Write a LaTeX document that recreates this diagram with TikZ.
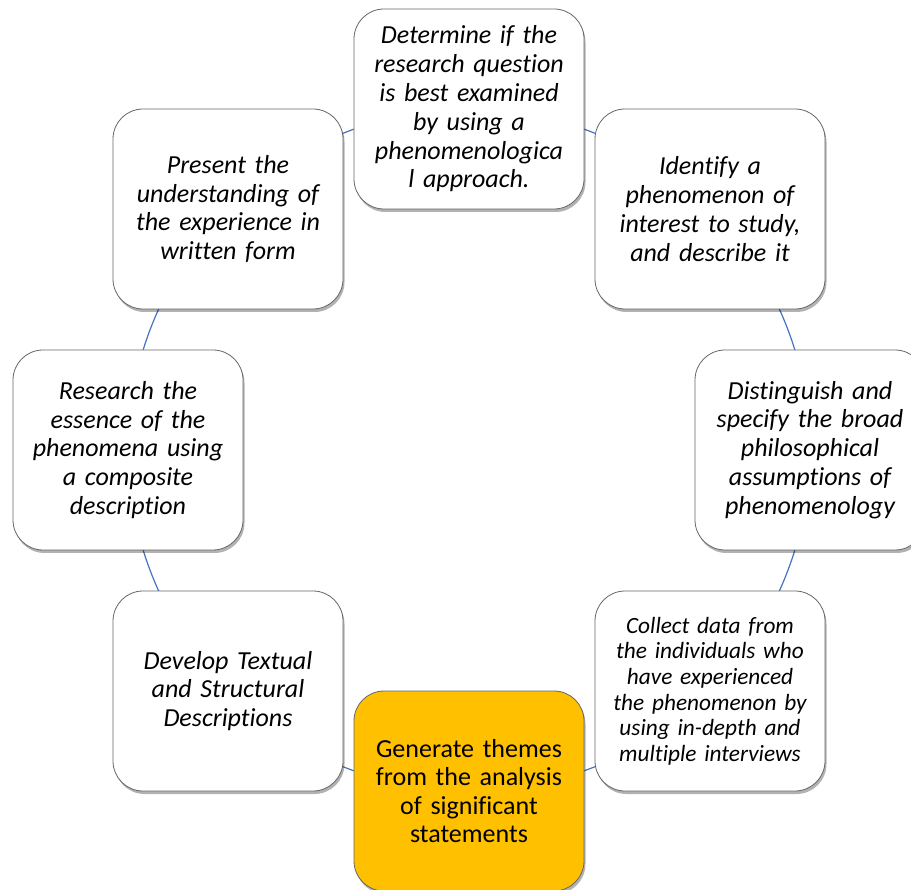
\documentclass[tikz,border=0pt]{standalone}
\usepackage{fontspec}
\setmainfont{Carlito}[Ligatures=NoCommon]
\usetikzlibrary{shadows,backgrounds}
\definecolor{ringblue}{HTML}{4472C4}
\definecolor{hlorange}{HTML}{FFC000}
\tikzset{
  stepbox/.style={draw=black!60, line width=0.8pt, rounded corners=30pt, fill=white,
    minimum width=230pt, minimum height=200pt, text width=222pt, inner sep=2pt, align=center,
    font=\fontsize{26}{28.8}\selectfont\itshape,
    drop shadow={shadow xshift=1.5pt, shadow yshift=-3pt, fill=black, opacity=0.3}},
  hlbox/.style={stepbox, fill=hlorange, font=\fontsize{26}{28.4}\selectfont},
  ring/.style={draw=ringblue, line width=1.2pt, looseness=0.885}
}
\begin{document}
\begin{tikzpicture}[x=1pt,y=1pt]
\useasboundingbox (0,0) rectangle (911,-890);
\node[stepbox] (top) at (469,-109) {Determine if the\\ research question\\ is best examined\\ by using a\\ phenomenologica\\ l approach.};
\node[stepbox] (tr) at (710,-209) {Identify a\\ phenomenon of\\ interest to study,\\ and describe it};
\node[stepbox] (r) at (810,-450) {Distinguish and\\ specify the broad\\ philosophical\\ assumptions of\\ phenomenology};
\node[stepbox, font=\fontsize{23.3}{25.6}\selectfont\itshape] (br) at (710,-691) {Collect data from\\ the individuals who\\ have experienced\\ the phenomenon by\\ using in-depth and\\ multiple interviews};
\node[hlbox] (b) at (469,-791) {Generate themes\\ from the analysis\\ of significant\\ statements};
\node[stepbox] (bl) at (228,-691) {Develop Textual\\ and Structural\\ Descriptions};
\node[stepbox] (l) at (128,-450) {Research the\\ essence of the\\ phenomena using\\ a composite\\ description};
\node[stepbox] (tl) at (228,-209) {Present the\\ understanding of\\ the experience in\\ written form};
\begin{pgfonlayer}{background}
\draw[ring] (top.center) to[bend left=22.5] (tr.center);
\draw[ring] (tr.center) to[bend left=22.5] (r.center);
\draw[ring] (r.center) to[bend left=22.5] (br.center);
\draw[ring] (br.center) to[bend left=22.5] (b.center);
\draw[ring] (b.center) to[bend left=22.5] (bl.center);
\draw[ring] (bl.center) to[bend left=22.5] (l.center);
\draw[ring] (l.center) to[bend left=22.5] (tl.center);
\draw[ring] (tl.center) to[bend left=22.5] (top.center);
\end{pgfonlayer}
\end{tikzpicture}
\end{document}
